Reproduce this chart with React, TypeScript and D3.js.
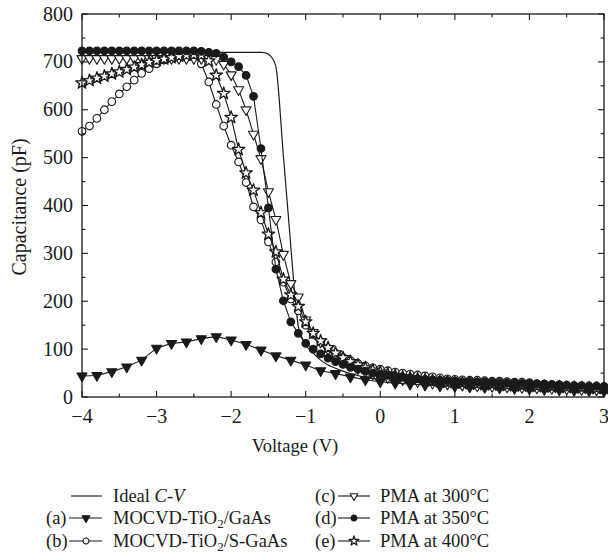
import React from "react";
import * as d3 from "d3";

// ---------- data ----------
const voltageFine = [
  -4.0, -3.9, -3.8, -3.7, -3.6, -3.5, -3.4, -3.3, -3.2, -3.1,
  -3.0, -2.9, -2.8, -2.7, -2.6, -2.5, -2.4, -2.3, -2.2, -2.1,
  -2.0, -1.9, -1.8, -1.7, -1.6, -1.5, -1.4, -1.3, -1.2, -1.1,
  -1.0, -0.9, -0.8, -0.7, -0.6, -0.5, -0.4, -0.3, -0.2, -0.1,
  0.0, 0.1, 0.2, 0.3, 0.4, 0.5, 0.6, 0.7, 0.8, 0.9,
  1.0, 1.1, 1.2, 1.3, 1.4, 1.5, 1.6, 1.7, 1.8, 1.9,
  2.0, 2.1, 2.2, 2.3, 2.4, 2.5, 2.6, 2.7, 2.8, 2.9, 3.0,
];
const voltageCoarse = [
  -4.0, -3.8, -3.6, -3.4, -3.2, -3.0, -2.8, -2.6, -2.4, -2.2,
  -2.0, -1.8, -1.6, -1.4, -1.2, -1.0, -0.8, -0.6, -0.4, -0.2,
  0.0, 0.2, 0.4, 0.6, 0.8, 1.0, 1.2, 1.4, 1.6, 1.8,
  2.0, 2.2, 2.4, 2.6, 2.8, 3.0,
];

const idealVoltage = [-4, -1.6, -1.55, -1.5, -1.45, -1.4, -1.3, -1.2, -1.15, -1.1, -1.05, -1.0, -0.9, -0.8, -0.7, -0.6, -0.5, -0.4, -0.2, 0, 0.5, 1, 2, 3];
const idealCap = [720, 720, 719, 716, 708, 690, 505, 315, 220, 148, 124, 108, 92, 77, 67, 60, 54, 49, 41, 37, 31, 27, 21, 17];

// (a) MOCVD-TiO2/GaAs  (0.2 V steps)
const capA = [
  44, 45, 53, 63, 77, 102, 112, 115, 122, 126,
  119, 110, 98, 86, 77, 67, 55, 49, 42, 36,
  32, 29, 27, 25, 23, 22, 21, 20, 19, 18,
  17, 16, 15, 14, 13, 12,
];
// (b) MOCVD-TiO2/S-GaAs
const capB = [
  555, 566, 582, 600, 617, 633, 648, 662, 676, 686,
  696, 704, 709, 712, 714, 714, 696, 658, 611, 566,
  526, 491, 448, 397, 370, 324, 282, 240, 205, 180,
  150, 131, 115, 102, 91, 83, 76, 70, 65, 61,
  58, 55, 52, 50, 48, 46, 44, 42, 40, 38,
  37, 36, 35, 35, 34, 33, 33, 32, 31, 31,
  30, 28, 27, 26, 25, 24, 23, 22, 21, 20, 19,
];
// (c) PMA at 300 °C
const capC = [
  707, 707, 707, 707, 707, 707, 707, 707, 707, 707,
  707, 707, 707, 707, 707, 707, 707, 707, 705, 695,
  673, 642, 600, 549, 498, 429, 371, 298, 237, 209,
  161, 135, 115, 100, 87, 76, 67, 59, 53, 48,
  44, 41, 38, 36, 34, 32, 30, 29, 28, 27,
  26, 25, 24, 23, 23, 22, 22, 21, 21, 20,
  20, 19, 19, 18, 18, 17, 17, 16, 16, 15, 15,
];
// (d) PMA at 350 °C
const capD = [
  723, 723, 723, 723, 723, 723, 723, 723, 723, 723,
  723, 723, 723, 723, 723, 723, 722, 720, 718, 710,
  700, 690, 672, 628, 519, 395, 267, 201, 157, 133,
  112, 100, 90, 81, 74, 68, 62, 58, 54, 50,
  47, 45, 43, 41, 40, 38, 37, 36, 35, 34,
  33, 32, 32, 31, 31, 30, 30, 29, 29, 28,
  28, 27, 27, 26, 26, 25, 24, 24, 23, 23, 22,
];
// (e) PMA at 400 °C
const capE = [
  656, 661, 666, 670, 675, 679, 684, 689, 694, 699,
  703, 706, 709, 712, 714, 715, 714, 702, 672, 634,
  584, 517, 468, 432, 385, 340, 303, 246, 213, 189,
  157, 133, 117, 103, 92, 82, 74, 67, 61, 56,
  52, 48, 45, 42, 40, 38, 36, 34, 32, 31,
  30, 29, 28, 27, 26, 26, 25, 24, 24, 23,
  23, 22, 22, 21, 21, 20, 20, 19, 19, 18, 18,
];

const xTickLabels = ["−4", "−3", "−2", "−1", "0", "1", "2", "3"];
const yTickLabels = ["0", "100", "200", "300", "400", "500", "600", "700", "800"];

// ---------- layout ----------
const W = 608;
const H = 559;
const X0 = 82, X1 = 604, Y0 = 397, Y1 = 14;
const FONT = "'Liberation Serif', 'DejaVu Serif', serif";
const INK = "#1a1a1a";

type Marker = "triDownFilled" | "triDownOpen" | "circleOpen" | "circleFilled" | "star";

function markerPath(m: Marker, scale: number): string {
  if (m === "triDownFilled" || m === "triDownOpen") return d3.symbol(d3.symbolTriangle, 44 * scale)() as string;
  if (m === "star") return d3.symbol(d3.symbolStar, 48 * scale)() as string;
  return d3.symbol(d3.symbolCircle, 46 * scale)() as string;
}

function MarkerShape({ m, cx, cy, scale = 1 }: { m: Marker; cx: number; cy: number; scale?: number }) {
  const filled = m === "triDownFilled" || m === "circleFilled";
  const rot = m === "triDownFilled" || m === "triDownOpen" ? " rotate(180)" : "";
  return (
    <path
      d={markerPath(m, scale)}
      transform={`translate(${cx},${cy})${rot}`}
      fill={filled ? INK : "#fff"}
      stroke={INK}
      strokeWidth={m === "star" ? 1.3 : 1.1}
      strokeLinejoin="round"
    />
  );
}

export default function App() {
  const x = d3.scaleLinear().domain([-4, 3]).range([X0, X1]);
  const y = d3.scaleLinear().domain([0, 800]).range([Y0, Y1]);

  const line = d3.line<[number, number]>().x((d) => x(d[0])).y((d) => y(d[1]));
  const smooth = d3
    .line<[number, number]>()
    .x((d) => x(d[0]))
    .y((d) => y(d[1]))
    .curve(d3.curveMonotoneX);

  const zip = (vs: number[], cs: number[]) => vs.map((v, i) => [v, cs[i]] as [number, number]);

  const series: { pts: [number, number][]; m: Marker }[] = [
    { pts: zip(voltageFine, capB), m: "circleOpen" },
    { pts: zip(voltageFine, capC), m: "triDownOpen" },
    { pts: zip(voltageFine, capE), m: "star" },
    { pts: zip(voltageFine, capD), m: "circleFilled" },
    { pts: zip(voltageCoarse, capA), m: "triDownFilled" },
  ];

  const xMajor = x.ticks(7);
  const xMinor = x.ticks(14);
  const yMajor = y.ticks(8);
  const yMinor = y.ticks(16);

  const legendLeft = [
    { label: "ideal", tag: "", m: null as Marker | null, yy: 496 },
    { label: "a", tag: "(a)", m: "triDownFilled" as Marker, yy: 518 },
    { label: "b", tag: "(b)", m: "circleOpen" as Marker, yy: 541 },
  ];
  const legendRight = [
    { text: "PMA at 300°C", tag: "(c)", m: "triDownOpen" as Marker, yy: 496 },
    { text: "PMA at 350°C", tag: "(d)", m: "circleFilled" as Marker, yy: 518 },
    { text: "PMA at 400°C", tag: "(e)", m: "star" as Marker, yy: 541 },
  ];

  return (
    <div style={{ position: "absolute", left: 0, top: 0, width: W, height: H, background: "#fff" }}>
      <svg width={W} height={H} style={{ display: "block" }} fontFamily={FONT}>
        <rect width={W} height={H} fill="#fff" />
        {/* ideal */}
        <path d={smooth(zip(idealVoltage, idealCap)) as string} fill="none" stroke={INK} strokeWidth={1.2} />
        {series.map((s, i) => (
          <g key={i}>
            <path d={line(s.pts) as string} fill="none" stroke={INK} strokeWidth={1.1} />
            {s.pts.map((p, j) => (
              <MarkerShape key={j} m={s.m} cx={x(p[0])} cy={y(p[1])} />
            ))}
          </g>
        ))}

        {/* frame */}
        <rect x={X0} y={Y1} width={X1 - X0} height={Y0 - Y1} fill="none" stroke={INK} strokeWidth={1.3} />

        {/* ticks */}
        {xMinor.map((t, i) => {
          const major = xMajor.some((m) => Math.abs(m - t) < 1e-9);
          const len = major ? 6 : 3.5;
          return (
            <g key={"xt" + i} stroke={INK} strokeWidth={1.1}>
              <line x1={x(t)} x2={x(t)} y1={Y0} y2={Y0 - len} />
              <line x1={x(t)} x2={x(t)} y1={Y1} y2={Y1 + len} />
            </g>
          );
        })}
        {yMinor.map((t, i) => {
          const major = yMajor.some((m) => Math.abs(m - t) < 1e-9);
          const len = major ? 6 : 3.5;
          return (
            <g key={"yt" + i} stroke={INK} strokeWidth={1.1}>
              <line x1={X0} x2={X0 + len} y1={y(t)} y2={y(t)} />
              <line x1={X1} x2={X1 - len} y1={y(t)} y2={y(t)} />
            </g>
          );
        })}

        {/* tick labels */}
        {xMajor.map((t, i) => (
          <text key={"xl" + i} x={x(t)} y={423} textAnchor="middle" fontSize={20} fill={INK}>
            {xTickLabels[i]}
          </text>
        ))}
        {yMajor.map((t, i) => (
          <text key={"yl" + i} x={73} y={y(t) + 6.5} textAnchor="end" fontSize={20} fill={INK}>
            {yTickLabels[i]}
          </text>
        ))}

        {/* axis titles */}
        <text x={295} y={452} textAnchor="middle" fontSize={18.5} fill={INK}>
          Voltage (V)
        </text>
        <text transform="translate(26,207) rotate(-90)" textAnchor="middle" fontSize={20} fill={INK}>
          Capacitance (pF)
        </text>

        {/* legend */}
        {legendLeft.map((l, i) => (
          <g key={"ll" + i}>
            {l.tag && (
              <text x={46} y={l.yy + 6} fontSize={18.5} fill={INK}>
                {l.tag}
              </text>
            )}
            <line x1={l.m ? 69 : 71} x2={102} y1={l.yy} y2={l.yy} stroke={INK} strokeWidth={1.1} />
            {l.m && <MarkerShape m={l.m} cx={86} cy={l.yy} scale={0.6} />}
            <text x={113} y={l.yy + 6} fontSize={18.5} fill={INK}>
              {l.label === "ideal" && (
                <>
                  Ideal <tspan fontStyle="italic">C</tspan>-<tspan fontStyle="italic">V</tspan>
                </>
              )}
              {l.label === "a" && (
                <>
                  MOCVD-TiO<tspan fontSize={13} dy={4}>2</tspan>
                  <tspan dy={-4}>/GaAs</tspan>
                </>
              )}
              {l.label === "b" && (
                <>
                  MOCVD-TiO<tspan fontSize={13} dy={4}>2</tspan>
                  <tspan dy={-4}>/S-GaAs</tspan>
                </>
              )}
            </text>
          </g>
        ))}
        {legendRight.map((l, i) => (
          <g key={"lr" + i}>
            <text x={315} y={l.yy + 6} fontSize={18.5} fill={INK}>
              {l.tag}
            </text>
            <line x1={338} x2={370} y1={l.yy} y2={l.yy} stroke={INK} strokeWidth={1.1} />
            <MarkerShape m={l.m} cx={354} cy={l.yy} scale={0.6} />
            <text x={380} y={l.yy + 6} fontSize={18.5} fill={INK}>
              {l.text}
            </text>
          </g>
        ))}
      </svg>
    </div>
  );
}
